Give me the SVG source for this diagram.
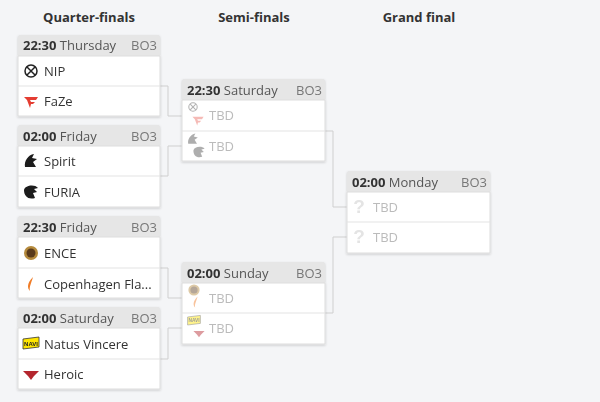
<svg xmlns="http://www.w3.org/2000/svg" width="600" height="402" viewBox="0 0 600 402">
<style>
.t{font-family:"Open Sans","Liberation Sans",sans-serif;font-size:13px;fill:#333}
.h{font-family:"Open Sans","Liberation Sans",sans-serif;font-size:13px;font-weight:bold;fill:#333;text-anchor:middle}
.d{fill:#555}
.bo{fill:#777;text-anchor:end}
.tbd{fill:#bbb}
.hd{fill:#e6e6e6}
.bx{fill:#fff;stroke:#ddd;stroke-width:1}
.sep{stroke:#e3e3e3;stroke-width:1}
.c{fill:none;stroke:#cfcfcf;stroke-width:1}
</style>
<defs>
<filter id="sh" x="-5%" y="-5%" width="110%" height="115%"><feDropShadow dx="0" dy="1" stdDeviation="1" flood-opacity="0.18"/></filter>
<g id="nip"><circle cx="0" cy="0" r="6" fill="none" stroke="#222" stroke-width="1.5"/><path d="M-4,-4 L4,4 M-4,4 L4,-4" stroke="#222" stroke-width="1.5"/></g>
<g id="faze"><path d="M-7,-4 L7,-4 L5,-1 L-1,-1 L0,1 L4,1 L2,3 L0,3 L-1,7 L-4,-1 Z" fill="#e43d30"/></g>
<g id="spirit"><path d="M-6,6 C-7,0 -3,-6 3,-7 L1,-3 L6,-2 L2,1 L5,6 Z" fill="#1a1a1a"/></g>
<g id="furia"><path d="M-7,-2 C-6,-7 4,-8 7,-4 L3,-3 L6,0 L2,1 L4,6 C-3,8 -7,4 -7,-2 Z" fill="#1a1a1a"/></g>
<g id="ence"><circle r="7" fill="#b58a3c"/><circle r="4.5" fill="#5a3b1c"/></g>
<g id="cph"><path d="M2,-7 C-4,-1 -4,4 -1,7 C-2,3 0,0 2,-7 Z" fill="#f07b25"/></g>
<g id="navi"><path d="M-8,-5 L8,-7 L8,3 L-8,5 Z" fill="#ffe600" stroke="#333" stroke-width="0.8"/><text x="0" y="1.5" font-family="Liberation Sans,sans-serif" font-size="6" font-weight="bold" text-anchor="middle" fill="#222">NAVI</text></g>
<g id="heroic"><path d="M-8,-3 L8,-3 L3,2 L0,6 L-3,2 Z" fill="#b4252d"/></g>
<g id="q"><text x="0" y="6" font-family="Liberation Sans,sans-serif" font-size="19" font-weight="bold" text-anchor="middle" fill="#e4e4e4">?</text></g>
</defs>
<rect width="600" height="402" fill="#f4f5f7"/>
<text class="h" x="89" y="22">Quarter-finals</text>
<text class="h" x="254" y="22">Semi-finals</text>
<text class="h" x="419" y="22">Grand final</text>
<g id="connectors">
<path class="c" d="M160,86 H168 V116 H182"/>
<path class="c" d="M160,176 H168 V146 H182"/>
<path class="c" d="M160,268 H168 V298 H182"/>
<path class="c" d="M160,359 H168 V328 H182"/>
<path class="c" d="M325,131 H333 V207 H347"/>
<path class="c" d="M325,313 H333 V237 H347"/>
</g>
<g id="qf1" filter="url(#sh)">
<rect class="hd" x="18" y="35" width="142" height="21" rx="2"/>
<rect class="bx" x="18" y="56" width="142" height="60"/><line class="sep" x1="18" y1="86" x2="160" y2="86"/>
<text class="t" x="23" y="50"><tspan font-weight="bold">22:30</tspan><tspan class="d"> Thursday</tspan></text><text class="t bo" x="157" y="50">BO3</text>
<use href="#nip" x="31" y="71"/><text class="t" x="44" y="76">NIP</text>
<use href="#faze" x="31" y="101"/><text class="t" x="44" y="106">FaZe</text>
</g>
<g id="qf2" filter="url(#sh)">
<rect class="hd" x="18" y="125" width="142" height="21" rx="2"/>
<rect class="bx" x="18" y="146" width="142" height="61"/><line class="sep" x1="18" y1="176" x2="160" y2="176"/>
<text class="t" x="23" y="141"><tspan font-weight="bold">02:00</tspan><tspan class="d"> Friday</tspan></text><text class="t bo" x="157" y="141">BO3</text>
<use href="#spirit" x="31" y="161"/><text class="t" x="44" y="166">Spirit</text>
<use href="#furia" x="31" y="192"/><text class="t" x="44" y="197">FURIA</text>
</g>
<g id="qf3" filter="url(#sh)">
<rect class="hd" x="18" y="216" width="142" height="21" rx="2"/>
<rect class="bx" x="18" y="237" width="142" height="61"/><line class="sep" x1="18" y1="268" x2="160" y2="268"/>
<text class="t" x="23" y="232"><tspan font-weight="bold">22:30</tspan><tspan class="d"> Friday</tspan></text><text class="t bo" x="157" y="232">BO3</text>
<use href="#ence" x="31" y="253"/><text class="t" x="44" y="258">ENCE</text>
<use href="#cph" x="31" y="284"/><text class="t" x="44" y="289">Copenhagen Fla...</text>
</g>
<g id="qf4" filter="url(#sh)">
<rect class="hd" x="18" y="307" width="142" height="21" rx="2"/>
<rect class="bx" x="18" y="328" width="142" height="61"/><line class="sep" x1="18" y1="359" x2="160" y2="359"/>
<text class="t" x="23" y="323"><tspan font-weight="bold">02:00</tspan><tspan class="d"> Saturday</tspan></text><text class="t bo" x="157" y="323">BO3</text>
<use href="#navi" x="31" y="344"/><text class="t" x="44" y="349">Natus Vincere</text>
<use href="#heroic" x="31" y="374"/><text class="t" x="44" y="379">Heroic</text>
</g>
<g id="sf1" filter="url(#sh)">
<rect class="hd" x="182" y="79" width="143" height="21" rx="2"/>
<rect class="bx" x="182" y="100" width="143" height="61"/><line class="sep" x1="182" y1="131" x2="325" y2="131"/>
<text class="t" x="187" y="95"><tspan font-weight="bold">22:30</tspan><tspan class="d"> Saturday</tspan></text><text class="t bo" x="322" y="95">BO3</text>
<g opacity="0.35"><use href="#nip" transform="translate(193,107) scale(0.7)"/><use href="#faze" transform="translate(198,120) scale(0.8)"/>
<use href="#spirit" transform="translate(193,139) scale(0.8)"/><use href="#furia" transform="translate(199,152) scale(0.8)"/></g>
<text class="t tbd" x="209" y="120">TBD</text><text class="t tbd" x="209" y="151">TBD</text>
</g>
<g id="sf2" filter="url(#sh)">
<rect class="hd" x="182" y="262" width="143" height="21" rx="2"/>
<rect class="bx" x="182" y="283" width="143" height="61"/><line class="sep" x1="182" y1="313" x2="325" y2="313"/>
<text class="t" x="187" y="278"><tspan font-weight="bold">02:00</tspan><tspan class="d"> Sunday</tspan></text><text class="t bo" x="322" y="278">BO3</text>
<g opacity="0.45"><use href="#ence" transform="translate(194,290) scale(0.8)"/><use href="#cph" transform="translate(196,302) scale(0.8)"/>
<use href="#navi" transform="translate(194,321) scale(0.8)"/><use href="#heroic" transform="translate(199,333) scale(0.7)"/></g>
<text class="t tbd" x="209" y="303">TBD</text><text class="t tbd" x="209" y="333">TBD</text>
</g>
<g id="gf" filter="url(#sh)">
<rect class="hd" x="347" y="171" width="143" height="21" rx="2"/>
<rect class="bx" x="347" y="192" width="143" height="61"/><line class="sep" x1="347" y1="222" x2="490" y2="222"/>
<text class="t" x="352" y="187"><tspan font-weight="bold">02:00</tspan><tspan class="d"> Monday</tspan></text><text class="t bo" x="487" y="187">BO3</text>
<use href="#q" x="359" y="207"/><text class="t tbd" x="373" y="212">TBD</text>
<use href="#q" x="359" y="237"/><text class="t tbd" x="373" y="242">TBD</text>
</g>
</svg>
